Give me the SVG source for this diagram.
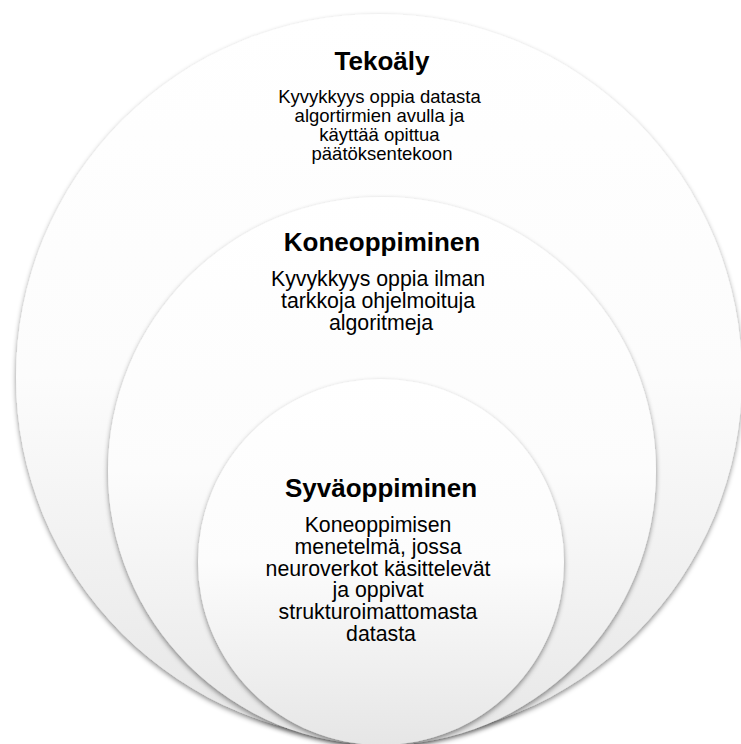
<svg xmlns="http://www.w3.org/2000/svg" width="741" height="744" viewBox="0 0 741 744">
  <defs>
    <linearGradient id="fill" x1="0" y1="0" x2="0" y2="1">
      <stop offset="0" stop-color="#ffffff"/>
      <stop offset="0.5" stop-color="#fcfcfc"/>
      <stop offset="1" stop-color="#e6e6e6"/>
    </linearGradient>
    <filter id="shadow" x="-10%" y="-10%" width="120%" height="120%">
      <feDropShadow dx="0" dy="2.5" stdDeviation="2.5" flood-color="#000000" flood-opacity="0.45"/>
    </filter>
  </defs>
  <style>
    .circle { fill: url(#fill); filter: url(#shadow); }
    .title { font-family: "Liberation Sans", Arial, sans-serif; font-weight: bold; font-size: 26px; fill: #000; text-anchor: middle; }
    .body { font-family: "Liberation Sans", Arial, sans-serif; fill: #000; text-anchor: middle; }
  </style>
  <rect width="741" height="744" fill="#ffffff"/>
  <g id="connectors"></g>
  <g id="tekoaly">
    <circle class="circle" cx="379" cy="377" r="363"/>
    <text class="title" x="382" y="70">Tekoäly</text>
    <text class="body" font-size="18.5" x="382">
      <tspan x="382" y="102.5">Kyvykkyys oppia datasta</tspan>
      <tspan x="382" y="121.7">algortirmien avulla ja</tspan>
      <tspan x="382" y="140.9">käyttää opittua</tspan>
      <tspan x="382" y="160.1">päätöksentekoon</tspan>
    </text>
  </g>
  <g id="koneoppiminen">
    <circle class="circle" cx="382" cy="471" r="274"/>
    <text class="title" x="382" y="251">Koneoppiminen</text>
    <text class="body" font-size="21.3">
      <tspan x="381" y="286.3">Kyvykkyys oppia ilman</tspan>
      <tspan x="381" y="308.1">tarkkoja ohjelmoituja</tspan>
      <tspan x="381" y="329.9">algoritmeja</tspan>
    </text>
  </g>
  <g id="syvaoppiminen">
    <circle class="circle" cx="381" cy="562" r="183"/>
    <text class="title" x="381" y="497">Syväoppiminen</text>
    <text class="body" font-size="21.3">
      <tspan x="381" y="532">Koneoppimisen</tspan>
      <tspan x="381" y="553.8">menetelmä, jossa</tspan>
      <tspan x="381" y="575.6">neuroverkot käsittelevät</tspan>
      <tspan x="381" y="597.4">ja oppivat</tspan>
      <tspan x="381" y="619.2">strukturoimattomasta</tspan>
      <tspan x="381" y="641">datasta</tspan>
    </text>
  </g>
</svg>
